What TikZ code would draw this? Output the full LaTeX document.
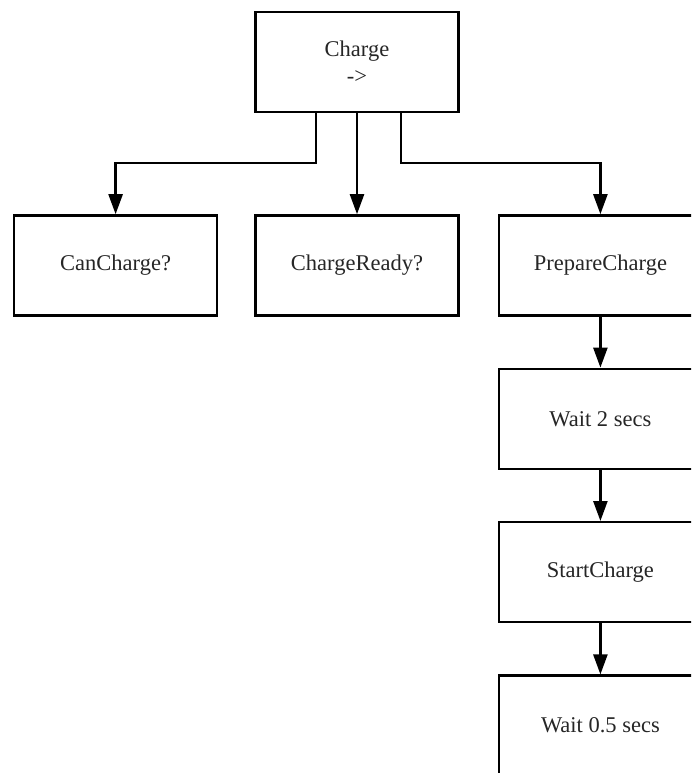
\documentclass[tikz,border=0pt]{standalone}
\usepackage{fontspec}
\setmainfont{Liberation Serif}
\usetikzlibrary{arrows.meta,positioning,calc}

\begin{document}
\begin{tikzpicture}[
  x=1pt, y=-1pt,
  node distance=101pt and 36pt,
  task/.style={draw, line width=2.4pt, minimum width=203pt, minimum height=100pt, align=center, text=black!85, font=\fontsize{22.5}{27}\selectfont},
  arr/.style={-{Triangle[length=20pt,width=14pt]}, line width=2.4pt}
]
\useasboundingbox (0,0) rectangle (691,773);
\clip (0,0) rectangle (691,773);

\node[task] (charge) at (357,62) {Charge\\->};
\node[task, below=of charge] (ready) {ChargeReady?};
\node[task, left=of ready] (can) {CanCharge?};
\node[task, right=38pt of ready] (prep) {PrepareCharge};
\node[task, below=51pt of prep] (wait2) {Wait 2 secs};
\node[task, below=51pt of wait2] (start) {StartCharge};
\node[task, below=51pt of start] (wait05) {Wait 0.5 secs};

\draw[arr] ($(charge.south)+(-41,0)$) -- ++(0,50) -| (can);
\draw[arr] (charge) -- (ready);
\draw[arr] ($(charge.south)+(44,0)$) -- ++(0,50) -| (prep);
\draw[arr] (prep) -- (wait2);
\draw[arr] (wait2) -- (start);
\draw[arr] (start) -- (wait05);
\end{tikzpicture}
\end{document}
